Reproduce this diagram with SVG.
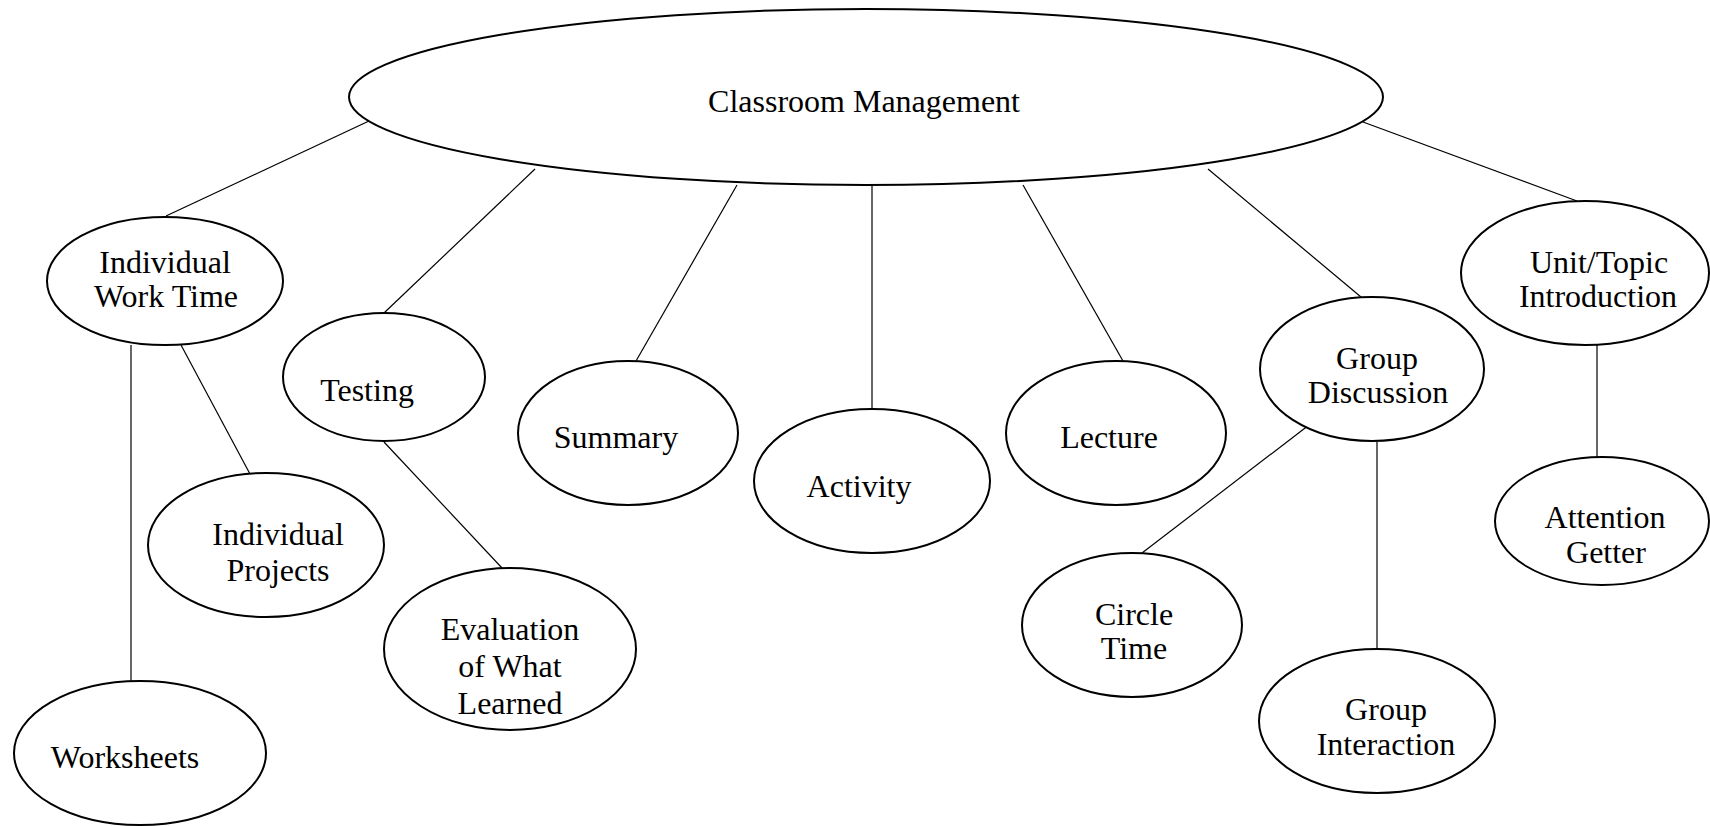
<svg xmlns="http://www.w3.org/2000/svg" width="1710" height="826" viewBox="0 0 1710 826">
<style>
.n{fill:#fff;stroke:#000;stroke-width:2}
.c line{stroke:#000;stroke-width:1.2}
text{font-family:"Liberation Serif","Times New Roman",serif;font-size:32px;fill:#000;text-anchor:middle}
</style>
<rect width="1710" height="826" fill="#fff"/>
<g class="c" id="connectors">
<line x1="369" y1="121" x2="166" y2="216"/>
<line x1="535" y1="169" x2="384" y2="313"/>
<line x1="737" y1="185" x2="636" y2="361"/>
<line x1="872" y1="185" x2="872" y2="409"/>
<line x1="1023" y1="185" x2="1123" y2="361"/>
<line x1="1208" y1="169" x2="1361" y2="297"/>
<line x1="1363" y1="122" x2="1577" y2="201"/>
<line x1="131" y1="345" x2="131" y2="681"/>
<line x1="181" y1="345" x2="250" y2="474"/>
<line x1="384" y1="442" x2="502" y2="568"/>
<line x1="1309" y1="425" x2="1142" y2="553"/>
<line x1="1377" y1="442" x2="1377" y2="649"/>
<line x1="1597" y1="345" x2="1597" y2="457"/>
</g>
<g id="classroom-management"><ellipse class="n" cx="866" cy="97" rx="517" ry="88"/><text x="864" y="112">Classroom Management</text></g>
<g id="individual-work-time"><ellipse class="n" cx="165" cy="281" rx="118" ry="64"/><text x="165" y="273">Individual</text><text x="166" y="307">Work Time</text></g>
<g id="testing"><ellipse class="n" cx="384" cy="377" rx="101" ry="64"/><text x="367" y="401">Testing</text></g>
<g id="individual-projects"><ellipse class="n" cx="266" cy="545" rx="118" ry="72"/><text x="278" y="545">Individual</text><text x="278" y="581">Projects</text></g>
<g id="worksheets"><ellipse class="n" cx="140" cy="753" rx="126" ry="72"/><text x="125" y="768">Worksheets</text></g>
<g id="evaluation"><ellipse class="n" cx="510" cy="649" rx="126" ry="81"/><text x="510" y="640">Evaluation</text><text x="510" y="677">of What</text><text x="510" y="714">Learned</text></g>
<g id="summary"><ellipse class="n" cx="628" cy="433" rx="110" ry="72"/><text x="616" y="448">Summary</text></g>
<g id="activity"><ellipse class="n" cx="872" cy="481" rx="118" ry="72"/><text x="859" y="497">Activity</text></g>
<g id="lecture"><ellipse class="n" cx="1116" cy="433" rx="110" ry="72"/><text x="1109" y="448">Lecture</text></g>
<g id="group-discussion"><ellipse class="n" cx="1372" cy="369" rx="112" ry="72"/><text x="1377" y="369">Group</text><text x="1378" y="403">Discussion</text></g>
<g id="unit-topic"><ellipse class="n" cx="1585" cy="273" rx="124" ry="72"/><text x="1599" y="273">Unit/Topic</text><text x="1598" y="307">Introduction</text></g>
<g id="attention-getter"><ellipse class="n" cx="1602" cy="521" rx="107" ry="64"/><text x="1605" y="528">Attention</text><text x="1606" y="563">Getter</text></g>
<g id="circle-time"><ellipse class="n" cx="1132" cy="625" rx="110" ry="72"/><text x="1134" y="625">Circle</text><text x="1134" y="659">Time</text></g>
<g id="group-interaction"><ellipse class="n" cx="1377" cy="721" rx="118" ry="72"/><text x="1386" y="720">Group</text><text x="1386" y="755">Interaction</text></g>
</svg>
